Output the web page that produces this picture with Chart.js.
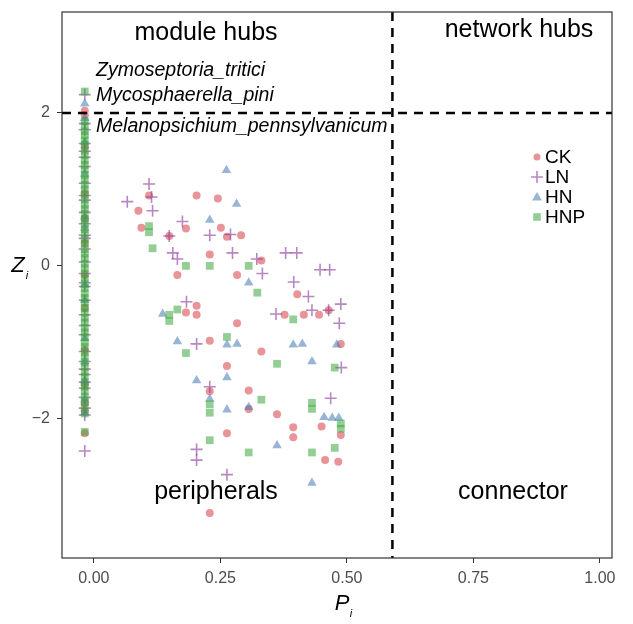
<!DOCTYPE html>
<html>
<head>
<meta charset="utf-8">
<script src="https://cdn.jsdelivr.net/npm/chart.js@4"></script>
<style>body{margin:0;background:#fff}</style>
</head>
<body>
<canvas id="c" width="633" height="624"></canvas>
<script>
// tick labels
var xTicks = [0, 0.25, 0.5, 0.75, 1];
var yTicks = [-2, 0, 2];
var piCut = 0.59;
var ziCut = 2;

// nodes with Pi = 0 sit in one column left of the 0.00 tick
var colPi = -0.018;
var ckCol = [2.03, 1.97, 1.55, 0.95, 0.62, 0.30, -0.12, -0.55, -1.10, -1.55, -1.80, -1.90, -2.19];
var lnCol = [2.24, 1.86, 1.78, 1.60, 1.50, 1.42, 1.30, 1.08, 0.92, 0.86, 0.70, 0.55, 0.40, 0.36, 0.22, 0.05,
  -0.10, -0.22, -0.27, -0.45, -0.64, -0.78, -0.90, -1.12, -1.25, -1.35, -1.42, -1.52, -1.60, -1.72, -1.86, -1.95, -2.42];
var hnCol = [2.12, 1.93, 1.62, 1.20, 0.64, 0.50, -0.25, -0.45, -0.95, -1.25, -1.50, -1.75, -1.92];
var hnpCol = [2.28, 1.89, 1.83, 1.76, 1.71, 1.64, 1.58, 1.51, 1.45, 1.38, 1.32, 1.26, 1.19, 1.13, 1.06, 1.00,
  0.93, 0.87, 0.80, 0.74, 0.68, 0.61, 0.55, 0.48, 0.42, 0.35, 0.29, 0.22, 0.16, 0.10, 0.03, -0.03, -0.10,
  -0.16, -0.23, -0.29, -0.36, -0.42, -0.48, -0.55, -0.61, -0.68, -0.74, -0.81, -0.87, -0.93, -1.00, -1.06,
  -1.13, -1.19, -1.26, -1.32, -1.39, -1.45, -1.52, -1.58, -1.64, -1.71, -1.78, -1.85, -1.93, -2.17];

// CK
var ckPi = [0.109, 0.203, 0.245, 0.088, 0.182, 0.094, 0.251, 0.263, 0.291, 0.149, 0.229, 0.331, 0.165, 0.283,
  0.402, 0.203, 0.182, 0.203, 0.283, 0.377, 0.415, 0.445, 0.464, 0.229, 0.331, 0.488, 0.263, 0.229, 0.306,
  0.306, 0.362, 0.394, 0.394, 0.263, 0.450, 0.488, 0.457, 0.483, 0.229];
var ckZi = [0.92, 0.92, 0.88, 0.72, 0.49, 0.50, 0.50, 0.38, 0.40, 0.39, 0.15, 0.07, -0.12, -0.12,
  -0.37, -0.52, -0.61, -0.64, -0.75, -0.64, -0.64, -0.64, -0.58, -0.98, -1.12, -1.02, -1.31, -1.64, -1.63,
  -1.87, -1.94, -2.11, -2.24, -2.19, -2.10, -2.21, -2.54, -2.56, -3.23];

// LN
var lnPi = [0.109, 0.114, 0.066, 0.116, 0.175, 0.229, 0.270, 0.149, 0.156, 0.165, 0.274, 0.322, 0.333, 0.379,
  0.401, 0.447, 0.466, 0.395, 0.424, 0.431, 0.464, 0.488, 0.485, 0.360, 0.183, 0.203, 0.489, 0.468, 0.229,
  0.203, 0.203, 0.263];
var lnZi = [1.07, 0.90, 0.84, 0.72, 0.58, 0.40, 0.41, 0.39, 0.17, 0.09, 0.17, 0.09, -0.10, 0.17,
  0.17, -0.05, -0.05, -0.21, -0.40, -0.58, -0.58, -0.50, -0.75, -0.63, -0.47, -1.02, -1.33, -1.73, -1.58,
  -2.40, -2.54, -2.73];

// HN
var hnPi = [0.262, 0.282, 0.229, 0.306, 0.136, 0.165, 0.263, 0.283, 0.394, 0.412, 0.480, 0.431, 0.203, 0.263,
  0.229, 0.306, 0.263, 0.455, 0.471, 0.484, 0.362, 0.431];
var hnZi = [1.25, 0.81, 0.60, -0.22, -0.63, -0.99, -1.03, -1.02, -1.03, -1.02, -1.03, -1.25, -1.50, -1.46,
  -1.74, -1.85, -1.88, -1.98, -1.99, -1.99, -2.35, -2.84];

// HNP
var hnpPi = [0.109, 0.109, 0.116, 0.182, 0.229, 0.306, 0.323, 0.149, 0.149, 0.165, 0.394, 0.263, 0.182, 0.362,
  0.476, 0.229, 0.229, 0.331, 0.431, 0.431, 0.488, 0.488, 0.476, 0.431, 0.306, 0.229];
var hnpZi = [0.52, 0.44, 0.23, 0.00, 0.00, 0.00, -0.35, -0.64, -0.72, -0.57, -0.70, -0.93, -1.14, -1.28,
  -1.33, -1.81, -1.92, -1.75, -1.79, -1.87, -2.06, -2.13, -2.38, -2.44, -2.44, -2.28];

var hubNames = ['Zymoseptoria_tritici', 'Mycosphaerella_pini', 'Melanopsichium_pennsylvanicum'];

function pts(col, xs, ys) {
  var out = [];
  for (var i in col) out.push({x: colPi, y: col[i]});
  for (var j in xs) out.push({x: xs[j], y: ys[j]});
  return out;
}

var series = [
  {label: 'CK', color: 'rgba(214,60,70,0.55)', style: 'circle', r: 4, data: pts(ckCol, ckPi, ckZi), order: 4},
  {label: 'LN', color: 'rgba(135,55,155,0.6)', style: 'cross', r: 6, data: pts(lnCol, lnPi, lnZi), order: 3},
  {label: 'HN', color: 'rgba(70,120,180,0.55)', style: 'triangle', r: 5.5, data: pts(hnCol, hnPi, hnZi), order: 2},
  {label: 'HNP', color: 'rgba(60,165,60,0.55)', style: 'rect', r: 5.5, data: pts(hnpCol, hnpPi, hnpZi), order: 1}
];

var datasets = series.map(function(s) {
  return {
    label: s.label,
    data: s.data,
    order: s.order,
    pointStyle: s.style,
    pointRadius: s.r,
    pointHoverRadius: s.r,
    backgroundColor: s.color,
    borderColor: s.style == 'cross' ? s.color : 'rgba(0,0,0,0)',
    borderWidth: s.style == 'cross' ? 1.6 : 0
  };
});

function drawMarker(ctx, style, x, y, color) {
  ctx.save();
  ctx.fillStyle = color;
  ctx.strokeStyle = color;
  ctx.lineWidth = 1.6;
  ctx.beginPath();
  if (style == 'circle') {
    ctx.arc(x, y, 3.5, 0, Math.PI * 2);
    ctx.fill();
  } else if (style == 'cross') {
    ctx.moveTo(x - 6, y); ctx.lineTo(x + 6, y);
    ctx.moveTo(x, y - 6); ctx.lineTo(x, y + 6);
    ctx.stroke();
  } else if (style == 'triangle') {
    ctx.moveTo(x, y - 5); ctx.lineTo(x + 5, y + 3.5); ctx.lineTo(x - 5, y + 3.5);
    ctx.closePath();
    ctx.fill();
  } else {
    ctx.fillRect(x - 3.8, y - 3.8, 7.6, 7.6);
  }
  ctx.restore();
}

var font = '"Liberation Sans", Arial, sans-serif';

var extras = {
  id: 'extras',
  afterDatasetsDraw: function(chart) {
    var ctx = chart.ctx, a = chart.chartArea;
    var xs = chart.scales.x, ys = chart.scales.y;
    ctx.save();
    // dashed cut-offs
    ctx.strokeStyle = '#000';
    ctx.lineWidth = 2.5;
    ctx.setLineDash([9, 7]);
    var px = xs.getPixelForValue(piCut);
    var py = ys.getPixelForValue(ziCut);
    ctx.beginPath();
    ctx.moveTo(px, a.top); ctx.lineTo(px, a.bottom);
    ctx.moveTo(a.left, py); ctx.lineTo(a.right, py);
    ctx.stroke();
    ctx.setLineDash([]);
    // frame
    ctx.strokeStyle = '#333';
    ctx.lineWidth = 1.2;
    ctx.strokeRect(a.left, a.top, a.right - a.left, a.bottom - a.top);

    // quadrant names
    ctx.fillStyle = '#000';
    ctx.textAlign = 'center';
    ctx.textBaseline = 'middle';
    ctx.font = '25px ' + font;
    ctx.fillText('module hubs', 206, 33);
    ctx.fillText('network hubs', 519, 30);
    ctx.fillText('peripherals', 216, 492);
    ctx.fillText('connector', 513, 492);

    // hub names
    ctx.textAlign = 'left';
    ctx.font = 'italic 19.5px ' + font;
    ctx.fillText(hubNames[0], 96, 71);
    ctx.fillText(hubNames[1], 96, 96);
    ctx.fillText(hubNames[2], 96, 127);

    // axis titles
    ctx.font = 'italic 22px ' + font;
    ctx.textAlign = 'center';
    ctx.fillText('P', 342, 604);
    ctx.fillText('Z', 18, 266);
    ctx.font = 'italic 11px ' + font;
    ctx.fillText('i', 351, 614);
    ctx.fillText('i', 27, 276);

    // legend
    ctx.font = '19px ' + font;
    ctx.textAlign = 'left';
    for (var i = 0; i < series.length; i++) {
      var ly = 157 + i * 20;
      drawMarker(ctx, series[i].style, 537, ly, series[i].color);
      ctx.fillStyle = '#000';
      ctx.fillText(series[i].label, 545, ly + 1);
    }
    ctx.restore();
  }
};

new Chart(document.getElementById('c'), {
  type: 'scatter',
  data: {datasets: datasets},
  plugins: [extras],
  options: {
    responsive: false,
    animation: false,
    events: [],
    layout: {padding: {top: 12, right: 21, left: 0, bottom: 0}},
    plugins: {legend: {display: false}, tooltip: {enabled: false}},
    scales: {
      x: {
        type: 'linear',
        min: -0.063,
        max: 1.024,
        afterBuildTicks: function(scale) {
          scale.ticks = xTicks.map(function(v) { return {value: v}; });
        },
        afterFit: function(scale) {
          scale.height = 66;
          scale.paddingLeft = 0;
          scale.paddingRight = 0;
        },
        border: {display: false},
        grid: {drawOnChartArea: false, drawTicks: true, tickLength: 5, color: '#333'},
        ticks: {
          padding: 6,
          color: '#4d4d4d',
          font: {size: 16, family: font},
          maxRotation: 0,
          callback: function(v) { return v.toFixed(2); }
        }
      },
      y: {
        type: 'linear',
        min: -3.82,
        max: 3.32,
        afterBuildTicks: function(scale) {
          scale.ticks = yTicks.map(function(v) { return {value: v}; });
        },
        afterFit: function(scale) {
          scale.width = 62;
          scale.paddingTop = 0;
          scale.paddingBottom = 0;
        },
        border: {display: false},
        grid: {drawOnChartArea: false, drawTicks: true, tickLength: 5, color: '#333'},
        ticks: {
          padding: 7,
          color: '#4d4d4d',
          font: {size: 16, family: font},
          callback: function(v) { return v < 0 ? '\u2212' + (-v) : '' + v; }
        }
      }
    }
  }
});
</script>
</body>
</html>
